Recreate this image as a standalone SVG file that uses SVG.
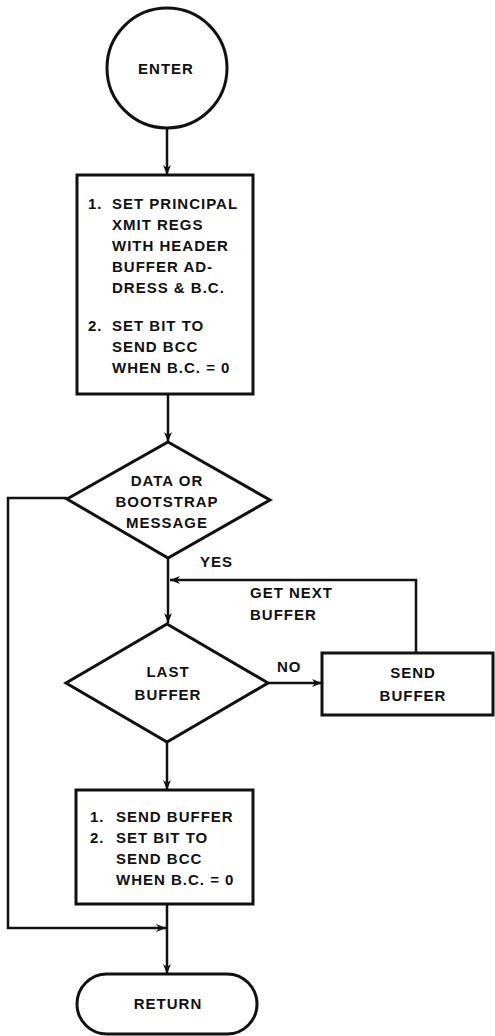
<svg xmlns="http://www.w3.org/2000/svg" width="495" height="1036" viewBox="0 0 495 1036">
<style>
.s{fill:#fff;stroke:#111;stroke-width:3}
.c{fill:none;stroke:#111;stroke-width:2.5}
text{font-family:"Liberation Sans",Arial,sans-serif;font-weight:bold;font-size:15px;letter-spacing:1px;fill:#111}
.m{text-anchor:middle}
</style>
<defs>
<marker id="a" viewBox="0 0 10 10" refX="10" refY="5" markerWidth="10" markerHeight="10" markerUnits="userSpaceOnUse" orient="auto">
<path d="M0,1 L10,5 L0,9 L3,5 Z" fill="#111"/>
</marker>
</defs>
<rect width="495" height="1036" fill="#fff"/>
<g id="connectors">
<line class="c" x1="167" y1="128" x2="167" y2="175" marker-end="url(#a)"/>
<line class="c" x1="168" y1="394" x2="168" y2="442" marker-end="url(#a)"/>
<line class="c" x1="168" y1="558" x2="168" y2="623" marker-end="url(#a)"/>
<polyline class="c" points="416,653 416,580 170,580" marker-end="url(#a)"/>
<line class="c" x1="268" y1="683" x2="322" y2="683" marker-end="url(#a)"/>
<line class="c" x1="167" y1="742" x2="167" y2="790" marker-end="url(#a)"/>
<polyline class="c" points="67,498 8,498 8,928 166,928" marker-end="url(#a)"/>
<line class="c" x1="167" y1="904" x2="167" y2="974" marker-end="url(#a)"/>
<text x="200" y="567">YES</text>
<text x="250" y="598">GET NEXT</text>
<text x="250" y="620">BUFFER</text>
<text x="277" y="672">NO</text>
</g>
<g id="enter">
<circle class="s" cx="167" cy="68" r="60"/>
<text class="m" x="166" y="74">ENTER</text>
</g>
<g id="setPrincipal">
<rect class="s" x="77" y="175" width="176" height="219"/>
<text x="88" y="209">1.</text>
<text x="112" y="209">SET PRINCIPAL</text>
<text x="112" y="230">XMIT REGS</text>
<text x="112" y="251">WITH HEADER</text>
<text x="112" y="272">BUFFER AD-</text>
<text x="112" y="293">DRESS &amp; B.C.</text>
<text x="88" y="331">2.</text>
<text x="112" y="331">SET BIT TO</text>
<text x="112" y="352">SEND BCC</text>
<text x="112" y="373">WHEN B.C. = 0</text>
</g>
<g id="dataOrBootstrap">
<polygon class="s" points="168,442 270,500 168,558 67,499"/>
<text class="m" x="167" y="486">DATA OR</text>
<text class="m" x="167" y="507">BOOTSTRAP</text>
<text class="m" x="167" y="528">MESSAGE</text>
</g>
<g id="lastBuffer">
<polygon class="s" points="167,624 268,683 167,742 66,683"/>
<text class="m" x="168" y="677">LAST</text>
<text class="m" x="168" y="700">BUFFER</text>
</g>
<g id="sendBuffer">
<rect class="s" x="322" y="653" width="171" height="62"/>
<text class="m" x="413" y="678">SEND</text>
<text class="m" x="413" y="701">BUFFER</text>
</g>
<g id="sendBufferBcc">
<rect class="s" x="76" y="790" width="177" height="114"/>
<text x="90" y="822">1.</text>
<text x="116" y="822">SEND BUFFER</text>
<text x="90" y="843">2.</text>
<text x="116" y="843">SET BIT TO</text>
<text x="116" y="864">SEND BCC</text>
<text x="116" y="885">WHEN B.C. = 0</text>
</g>
<g id="return">
<rect class="s" x="77" y="974" width="180" height="60" rx="30" ry="30"/>
<text class="m" x="168" y="1009">RETURN</text>
</g>
</svg>
